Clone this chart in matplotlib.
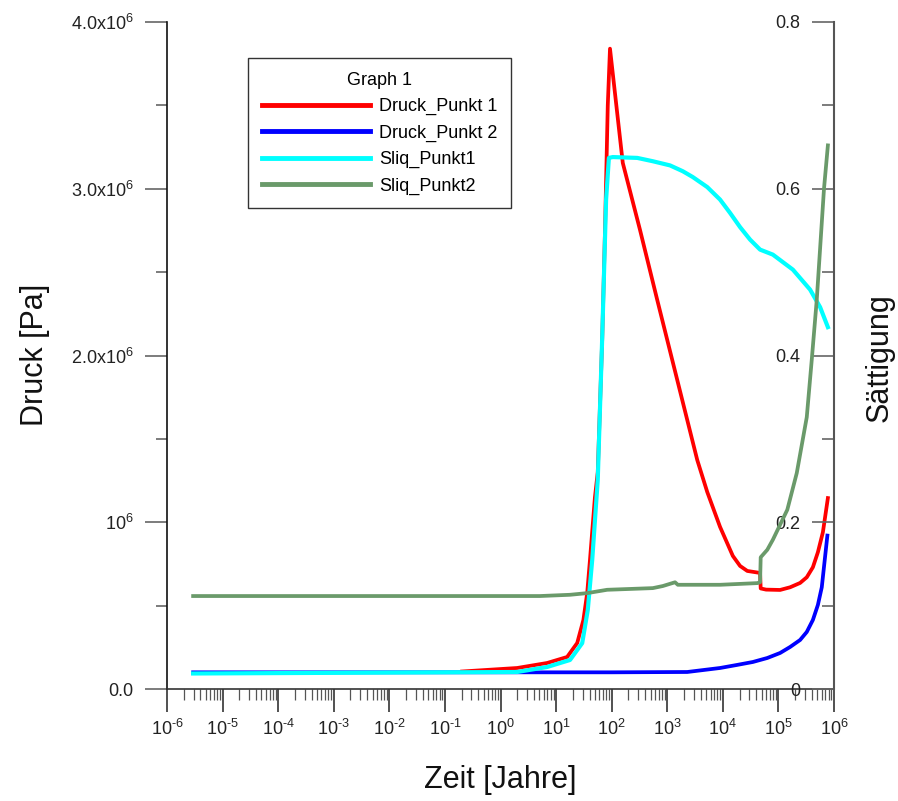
import matplotlib
matplotlib.use("Agg")
import matplotlib.pyplot as plt
from matplotlib.ticker import FixedLocator, FixedFormatter, LogLocator, NullFormatter

plt.rcParams['font.family'] = ['Liberation Sans', 'DejaVu Sans']
plt.rcParams['mathtext.fontset'] = 'custom'
plt.rcParams['mathtext.rm'] = 'Liberation Sans'
plt.rcParams['mathtext.it'] = 'Liberation Sans:italic'
plt.rcParams['axes.unicode_minus'] = False

# ---------------- data ----------------
red_t = [0.204, 2.0, 6.9, 15.8, 24, 31, 36.3, 40.7, 50, 56.2, 67.6, 75.9, 85.1, 93.3,
         158.5, 323.6, 660.7, 1513.6, 3467, 5248, 8913, 15136, 20417, 27542, 46774, 48000,
         60000, 107152, 162181, 245471, 323594, 416869, 512861, 630957, 776247]
red_p = [1.05e5, 1.26e5, 1.56e5, 1.92e5, 2.76e5, 4.14e5, 5.76e5, 7.74e5, 1.15e6, 1.3e6, 2.1e6, 2.75e6, 3.5e6, 3.84e6,
         3.155e6, 2.753e6, 2.333e6, 1.853e6, 1.373e6, 1.181e6, 9.72e5, 7.98e5, 7.38e5, 7.08e5, 6.96e5, 6.03e5,
         5.96e5, 5.94e5, 6.1e5, 6.36e5, 6.7e5, 7.3e5, 8.2e5, 9.4e5, 1.145e6]

blue_t = [2.95e-6, 100, 2291, 8913, 17783, 34674, 63096, 107152, 162181, 245471, 323594, 416869,
          512861, 602560, 760000]
blue_p = [1.0e5, 1.0e5, 1.02e5, 1.26e5, 1.44e5, 1.62e5, 1.86e5, 2.16e5, 2.52e5, 2.94e5, 3.42e5, 4.14e5,
          5.04e5, 6.1e5, 9.2e5]

cyan_t = [2.95e-6, 2.0, 6.9, 17.8, 29.5, 37.2, 44.7, 56.2, 67.6, 79.4, 89.1, 104.7, 288.4, 549.5,
          1122, 1905, 2884, 5248, 8913, 13490, 20417, 30903, 46774, 79433, 181970, 371535, 562341, 776247]
cyan_s = [0.0186, 0.0204, 0.0264, 0.0348, 0.055, 0.095, 0.155, 0.251, 0.422, 0.587, 0.637, 0.638, 0.637, 0.633,
          0.628, 0.621, 0.614, 0.602, 0.587, 0.571, 0.554, 0.539, 0.527, 0.521, 0.503, 0.479, 0.458, 0.434]

green_t = [2.95e-6, 5.1, 17.8, 36.3, 83, 550, 832, 1380, 1550, 8913, 41687, 46774, 48000,
           63096, 79433, 144544, 213796, 323594, 398107, 489779, 660693, 776247]
green_s = [0.1115, 0.1115, 0.113, 0.115, 0.119, 0.121, 0.1235, 0.128, 0.125, 0.125, 0.127, 0.128, 0.158,
           0.167, 0.179, 0.215, 0.259, 0.326, 0.395, 0.467, 0.60, 0.652]

series_names = ['Druck_Punkt 1', 'Druck_Punkt 2', 'Sliq_Punkt1', 'Sliq_Punkt2']
colors = ['#FF0000', '#0000FF', '#00FFFF', '#6A9A6A']

x_ticks = [1e-6, 1e-5, 1e-4, 1e-3, 1e-2, 1e-1, 1e0, 1e1, 1e2, 1e3, 1e4, 1e5, 1e6]
x_labels = [r'$\mathregular{10^{\text{-}6}}$', r'$\mathregular{10^{\text{-}5}}$', r'$\mathregular{10^{\text{-}4}}$',
            r'$\mathregular{10^{\text{-}3}}$', r'$\mathregular{10^{\text{-}2}}$', r'$\mathregular{10^{\text{-}1}}$',
            r'$\mathregular{10^{0}}$', r'$\mathregular{10^{1}}$', r'$\mathregular{10^{2}}$',
            r'$\mathregular{10^{3}}$', r'$\mathregular{10^{4}}$', r'$\mathregular{10^{5}}$',
            r'$\mathregular{10^{6}}$']
yl_ticks = [0, 1e6, 2e6, 3e6, 4e6]
yl_labels = ['0.0', r'$\mathregular{10^{6}}$', r'$\mathregular{2.0x10^{6}}$',
             r'$\mathregular{3.0x10^{6}}$', r'$\mathregular{4.0x10^{6}}$']
yr_ticks = [0, 0.2, 0.4, 0.6, 0.8]
yr_labels = ['0', '0.2', '0.4', '0.6', '0.8']

# ---------------- figure ----------------
W, H = 898, 801
fig = plt.figure(figsize=(W / 100, H / 100), dpi=100)
ax = fig.add_axes([167 / W, 112 / H, 667 / W, 667 / H])
ax2 = ax.twinx()

lw = 2.7
l1, = ax.plot(red_t, red_p, color=colors[0], lw=lw, label=series_names[0], zorder=3)
l2, = ax.plot(blue_t, blue_p, color=colors[1], lw=lw, label=series_names[1], zorder=2)
l3, = ax2.plot(cyan_t, cyan_s, color=colors[2], lw=3.0, label=series_names[2], zorder=2)
l4, = ax2.plot(green_t, green_s, color=colors[3], lw=lw, label=series_names[3], zorder=3)

ax.set_xscale('log')
ax.set_xlim(1e-6, 1e6)
ax.set_ylim(0, 4e6)
ax2.set_ylim(0, 0.8)

# x axis
ax.xaxis.set_major_locator(FixedLocator(x_ticks))
ax.xaxis.set_major_formatter(FixedFormatter(x_labels))
ax.xaxis.set_minor_locator(LogLocator(base=10, subs=[2, 3, 4, 5, 6, 7, 8, 9], numticks=50))
ax.xaxis.set_minor_formatter(NullFormatter())
ax.tick_params(axis='x', which='major', direction='out', length=16.5, width=1.1, color='#222222',
               labelsize=13, pad=5, labelcolor='#222222')
ax.tick_params(axis='x', which='minor', direction='out', length=8, width=0.9, color='#555555')

# left y axis
ax.yaxis.set_major_locator(FixedLocator(yl_ticks))
ax.yaxis.set_major_formatter(FixedFormatter(yl_labels))
ax.yaxis.set_minor_locator(FixedLocator([0.5e6, 1.5e6, 2.5e6, 3.5e6]))
ax.tick_params(axis='y', which='major', direction='out', length=16, width=1.2, color='#666666',
               labelsize=13, pad=8, labelcolor='#222222')
ax.tick_params(axis='y', which='minor', direction='out', length=8, width=1.2, color='#666666')

# right y axis (ticks and labels inside)
ax2.yaxis.set_major_locator(FixedLocator(yr_ticks))
ax2.yaxis.set_major_formatter(FixedFormatter(yr_labels))
ax2.yaxis.set_minor_locator(FixedLocator([0.1, 0.3, 0.5, 0.7]))
ax2.tick_params(axis='y', which='major', direction='in', length=16, width=1.2, color='#666666',
                labelsize=13, pad=-24, labelcolor='#222222')
ax2.tick_params(axis='y', which='minor', direction='in', length=8.5, width=1.2, color='#666666')
for lab in ax2.get_yticklabels():
    lab.set_horizontalalignment('right')

# spines
for s in ['top', 'right']:
    ax.spines[s].set_visible(False)
ax.spines['left'].set_color('#111111')
ax.spines['left'].set_linewidth(1.2)
ax.spines['bottom'].set_color('#333333')
ax.spines['bottom'].set_linewidth(1.2)
for s in ['top', 'left', 'bottom']:
    ax2.spines[s].set_visible(False)
ax2.spines['right'].set_color('#555555')
ax2.spines['right'].set_linewidth(1.5)

# axis labels
fig.text(35 / W, 1 - 355 / H, 'Druck [Pa]', rotation=90, ha='center', va='center', fontsize=22, color='#111111')
fig.text(500 / W, 1 - 780 / H, 'Zeit [Jahre]', ha='center', va='center', fontsize=22, color='#111111')
fig.text(880 / W, 1 - 358 / H, 'Sättigung', rotation=90, ha='center', va='center', fontsize=22, color='#111111')

# legend
leg = ax2.legend(handles=[l1, l2, l3, l4], title='Graph 1', loc='upper left',
                 bbox_to_anchor=((248 - 167) / 667, (689 - 58) / 667), borderaxespad=0,
                 fontsize=13, title_fontsize=13, handlelength=6.0, handletextpad=0.5,
                 labelspacing=0.52, borderpad=0.75, fancybox=False, framealpha=1,
                 edgecolor='#333333')
leg.get_frame().set_linewidth(1.0)
for h in leg.legend_handles:
    h.set_linewidth(3.5)

fig.savefig('out.png', dpi=100, facecolor='white')
